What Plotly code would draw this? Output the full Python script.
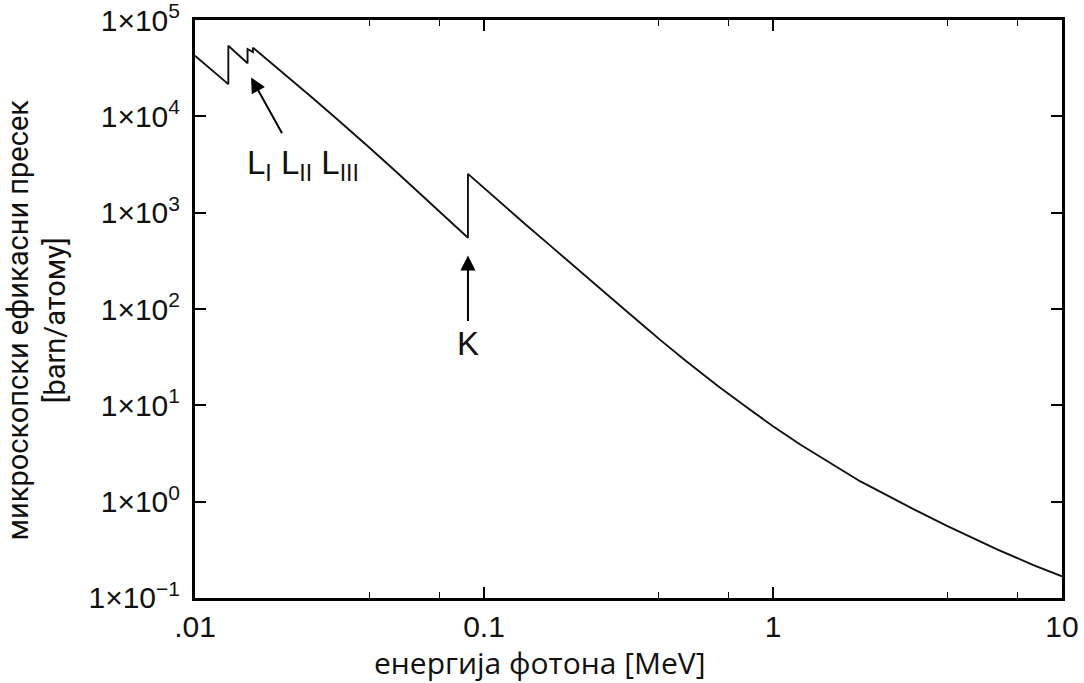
import math
import plotly.graph_objects as go

# Photoelectric cross section of lead vs photon energy (edges drawn as vertical jumps)
ENERGY_MEV = [0.0100, 0.0115, 0.01304, 0.01304, 0.0152, 0.0152, 0.01586, 0.01586,
              0.018, 0.020, 0.025, 0.030, 0.035, 0.040, 0.050, 0.060, 0.070,
              0.080, 0.0880, 0.0880, 0.100, 0.120, 0.139, 0.170, 0.211, 0.250,
              0.305, 0.360, 0.408, 0.500, 0.643, 0.800, 1.00, 1.25, 1.64, 2.00,
              3.05, 4.00, 5.96, 8.00, 10.0]
SIGMA_BARN = [42700, 29800, 21600, 54000, 35600, 50000, 46500, 51700,
              37700, 28900, 16400, 10200, 6810, 4780, 2610, 1590, 1040,
              718, 550, 2530, 1796, 1110, 757, 452, 261, 168,
              100, 65.5, 47.5, 28.9, 16.0, 9.85, 6.05, 3.87, 2.32, 1.63,
              0.84, 0.559, 0.320, 0.218, 0.168]

X_TICK_VALS = [0.01, 0.1, 1, 10]
X_TICK_TEXT = [".01", "0.1", "1", "10"]
X_MINOR_VALS = [0.04, 0.07, 0.4, 0.7, 4, 7]
Y_EXPONENTS = [5, 4, 3, 2, 1, 0, -1]

K_EDGE_MEV = 0.0880
L_ARROW_TIP = (0.01563, 25350)
L_ARROW_TAIL = (0.02014, 6430)
K_ARROW_TIP = 360
K_ARROW_TAIL = 72.6
L_LABEL_POS = (0.02366, 3090)
K_LABEL_SIGMA = 44.0

lg = math.log10

fig = go.Figure()
fig.add_trace(go.Scatter(
    x=ENERGY_MEV, y=SIGMA_BARN, mode="lines",
    line=dict(color="#111111", width=1.9),
    showlegend=False, hoverinfo="skip",
))

tick_font = dict(family="Liberation Sans, Arial, sans-serif", size=30, color="#111111")
axis_common = dict(
    type="log", showgrid=False, zeroline=False, automargin=False,
    showline=True, linecolor="black", linewidth=3, mirror="ticks",
    ticks="inside", ticklen=11, tickwidth=1.5, tickcolor="black",
    tickfont=tick_font, ticklabeloverflow="allow",
)

fig.update_xaxes(
    range=[-2, 1], tickvals=X_TICK_VALS, ticktext=X_TICK_TEXT,
    minor=dict(tickvals=X_MINOR_VALS, ticks="inside", ticklen=6,
               tickwidth=1.2, tickcolor="black"),
    **axis_common,
)
fig.update_yaxes(
    range=[-1.0005, 5.0005],
    tickvals=[10.0 ** e for e in Y_EXPONENTS],
    ticktext=["1×10<sup>%s</sup>" % (str(e).replace("-", "−")) for e in Y_EXPONENTS],
    ticklabelstandoff=6,
    **axis_common,
)

arrow_style = dict(xref="x", yref="y", axref="x", ayref="y", text="",
                   showarrow=True, arrowhead=2, arrowsize=1.5, arrowwidth=2,
                   arrowcolor="black", standoff=0)
label_font = dict(family="Liberation Sans, Arial, sans-serif", size=33, color="#111111")

ann = [
    dict(x=lg(L_ARROW_TIP[0]), y=lg(L_ARROW_TIP[1]),
         ax=lg(L_ARROW_TAIL[0]), ay=lg(L_ARROW_TAIL[1]), **arrow_style),
    dict(x=lg(K_EDGE_MEV), y=lg(K_ARROW_TIP),
         ax=lg(K_EDGE_MEV), ay=lg(K_ARROW_TAIL), **arrow_style),
    dict(x=lg(L_LABEL_POS[0]), y=lg(L_LABEL_POS[1]), xref="x", yref="y",
         text="L<sub>I</sub> L<sub>II</sub> L<sub>III</sub>",
         showarrow=False, font=label_font, xanchor="center", yanchor="middle"),
    dict(x=lg(K_EDGE_MEV), y=lg(K_LABEL_SIGMA), xref="x", yref="y", text="K",
         showarrow=False, font=label_font, xanchor="center", yanchor="middle"),
    # axis titles
    dict(x=0.398, y=-0.112, xref="paper", yref="paper",
         text="енергија фотона [MeV]", showarrow=False,
         font=dict(family="Open Sans, sans-serif", size=30, color="#111111"),
         xanchor="center", yanchor="middle"),
    dict(x=-0.1828, y=0.481, xref="paper", yref="paper",
         text="микроскопски ефикасни пресек<br>[barn/атому]", showarrow=False,
         textangle=-90,
         font=dict(family="Liberation Sans Narrow, Roboto, sans-serif",
                   size=29, color="#111111"),
         xanchor="center", yanchor="middle"),
]

fig.update_layout(
    width=1084, height=683,
    margin=dict(l=195, r=22, t=20, b=85),
    paper_bgcolor="white", plot_bgcolor="white",
    annotations=ann,
)

fig.write_html("out.html")
